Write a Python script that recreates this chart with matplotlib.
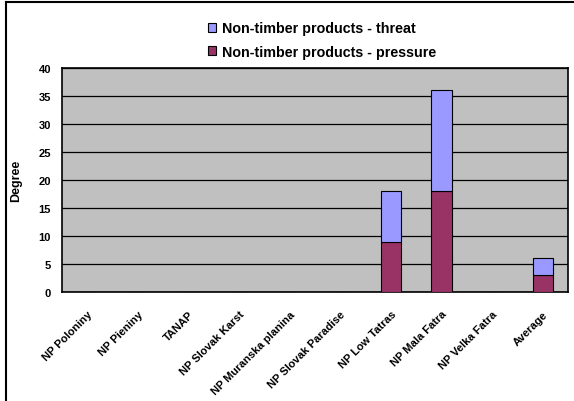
import numpy as np
import matplotlib.pyplot as plt
from matplotlib.lines import Line2D

parks = ['NP Poloniny', 'NP Pieniny', 'TANAP', 'NP Slovak Karst',
         'NP Muranska planina', 'NP Slovak Paradise', 'NP Low Tatras',
         'NP Mala Fatra', 'NP Velka Fatra', 'Average']
pressure = [0, 0, 0, 0, 0, 0, 9, 18, 0, 3]
threat = [0, 0, 0, 0, 0, 0, 9, 18, 0, 3]
yticks = [0, 5, 10, 15, 20, 25, 30, 35, 40]

plt.rcParams['font.family'] = ['Liberation Sans', 'DejaVu Sans']
plt.rcParams['font.weight'] = 'bold'

fig = plt.figure(figsize=(5.74, 4.02), dpi=100)
ax = fig.add_axes([62 / 574, 1 - 293 / 402, 506 / 574, 224 / 402])

x = np.arange(len(parks))
ax.bar(x, pressure, width=0.4, color='#993366', edgecolor='black',
       linewidth=0.8, zorder=3, label='Non-timber products - pressure')
ax.bar(x, threat, width=0.4, bottom=pressure, color='#9999FF',
       edgecolor='black', linewidth=0.8, zorder=3,
       label='Non-timber products - threat')

ax.set_facecolor('#C0C0C0')
ax.set_xlim(-0.5, len(parks) - 0.5)
ax.set_ylim(0, 40)
ax.set_yticks(yticks)
ax.yaxis.grid(True, color='black', linewidth=0.9, zorder=1)
ax.set_axisbelow(True)
for s in ax.spines.values():
    s.set_linewidth(1.2)
ax.tick_params(axis='y', length=0, pad=8, labelsize=8)
ax.tick_params(axis='x', length=0, pad=12, labelsize=8)
ax.set_xticks(x)
ax.set_xticklabels(parks, rotation=45, ha='right', rotation_mode='anchor')
for lbl in ax.get_yticklabels() + ax.get_xticklabels():
    lbl.set_fontweight('bold')
ax.set_ylabel('Degree', fontsize=9, fontweight='bold', labelpad=12)

handles, labels = ax.get_legend_handles_labels()
leg = fig.legend(handles[::-1], labels[::-1], loc='center',
                 bbox_to_anchor=(322 / 574, 1 - 41 / 402), frameon=False,
                 prop={'size': 10.3, 'weight': 'bold'}, handlelength=0.6,
                 handleheight=0.6, handletextpad=0.4, labelspacing=0.65)

# outer chart frame (top and left edges)
fig.add_artist(Line2D([6 / 574, 6 / 574], [0, 1 - 3 / 402],
                      color='black', linewidth=1.5))
fig.add_artist(Line2D([6 / 574, 1], [1 - 3 / 402, 1 - 3 / 402],
                      color='black', linewidth=1.5))

fig.savefig('out.png', dpi=100)
